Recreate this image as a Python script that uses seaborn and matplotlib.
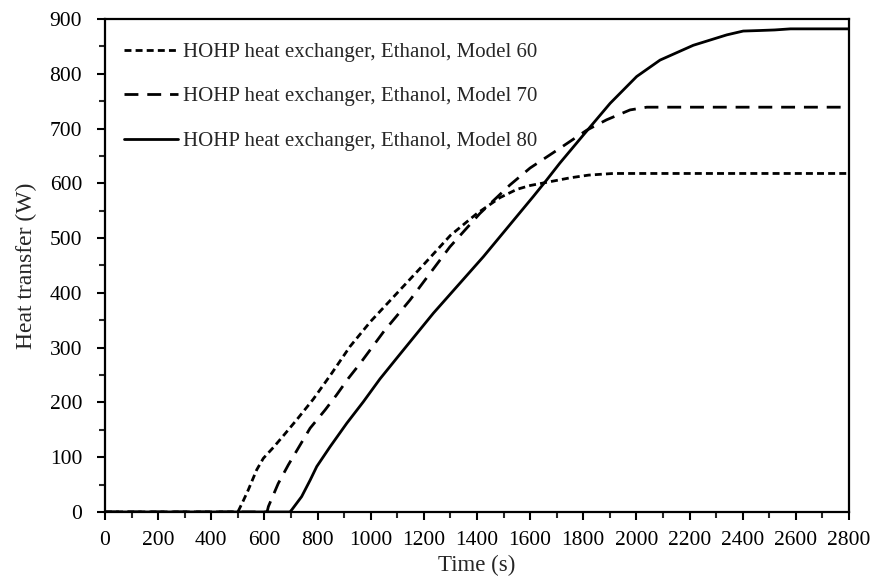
import numpy as np
import pandas as pd
import seaborn as sns
import matplotlib.pyplot as plt
from matplotlib.ticker import MultipleLocator

# values
time_60 = [0, 500, 520, 539, 571, 596, 634, 671, 721, 784, 853, 922, 1000, 1100, 1200,
           1300, 1400, 1487, 1550, 1600, 1675, 1750, 1820, 1912, 2800]
heat_60 = [0, 0, 20, 40, 77, 98, 118, 139, 168, 206, 253, 302, 348, 400, 452,
           505, 545, 574, 589, 596, 603, 610, 615, 618, 618]

time_70 = [0, 610, 615, 652, 690, 734, 772, 828, 872, 916, 960, 1050, 1148, 1298, 1411,
           1524, 1600, 1712, 1813, 1888, 1976, 2039, 2800]
heat_70 = [0, 0, 10, 52, 86, 122, 153, 186, 214, 244, 271, 330, 387, 484, 545,
           597, 628, 664, 697, 716, 734, 739, 739]

time_80 = [0, 696, 703, 740, 772, 797, 847, 910, 972, 1035, 1100, 1236, 1424, 1612, 1662,
           1712, 1800, 1901, 2001, 2089, 2214, 2340, 2402, 2465, 2520, 2580, 2800]
heat_80 = [0, 0, 4, 28, 58, 83, 119, 162, 201, 243, 282, 363, 466, 576, 606,
           637, 688, 746, 795, 825, 852, 871, 878, 879, 880, 882, 882]

labels = ["HOHP heat exchanger, Ethanol, Model 60",
          "HOHP heat exchanger, Ethanol, Model 70",
          "HOHP heat exchanger, Ethanol, Model 80"]

df = pd.concat([
    pd.DataFrame({"time": time_60, "heat": heat_60, "model": labels[0]}),
    pd.DataFrame({"time": time_70, "heat": heat_70, "model": labels[1]}),
    pd.DataFrame({"time": time_80, "heat": heat_80, "model": labels[2]}),
])

sns.set_style("ticks")
plt.rcParams["font.family"] = ["Liberation Serif", "DejaVu Serif"]

fig = plt.figure(figsize=(8.72, 5.81), dpi=100)
ax = fig.add_axes([0.1204, 0.1188, 0.8532, 0.8485])

dash_styles = {labels[0]: (2.5, 1.5), labels[1]: (5, 3.2), labels[2]: ""}
sns.lineplot(data=df, x="time", y="heat", style="model", dashes=dash_styles,
             color="black", linewidth=2, estimator=None, sort=False, ax=ax)

ax.set_xlim(0, 2800)
ax.set_ylim(0, 900)
ax.xaxis.set_major_locator(MultipleLocator(200))
ax.xaxis.set_minor_locator(MultipleLocator(100))
ax.yaxis.set_major_locator(MultipleLocator(100))
ax.yaxis.set_minor_locator(MultipleLocator(50))
ax.tick_params(axis="both", which="major", direction="out", length=6, width=1.5,
               labelsize=15.5, colors="black")
ax.tick_params(axis="x", which="major", pad=8)
ax.tick_params(axis="y", which="major", pad=10.5)
ax.tick_params(axis="both", which="minor", direction="out", length=4, width=1.5)
for sp in ax.spines.values():
    sp.set_linewidth(1.6)
    sp.set_color("black")

ax.set_xlabel("Time (s)", fontsize=16.5, labelpad=3)
ax.set_ylabel("Heat transfer (W)", fontsize=17, labelpad=9)

leg = ax.legend(loc="upper left", frameon=False, fontsize=15, handlelength=2.6,
                labelspacing=1.2, handletextpad=0.25, borderaxespad=0.6,
                bbox_to_anchor=(-0.003, 0.995))
for h in leg.get_lines():
    h.set_color("black")
    h.set_linewidth(2)

fig.savefig("out.png", dpi=100)
